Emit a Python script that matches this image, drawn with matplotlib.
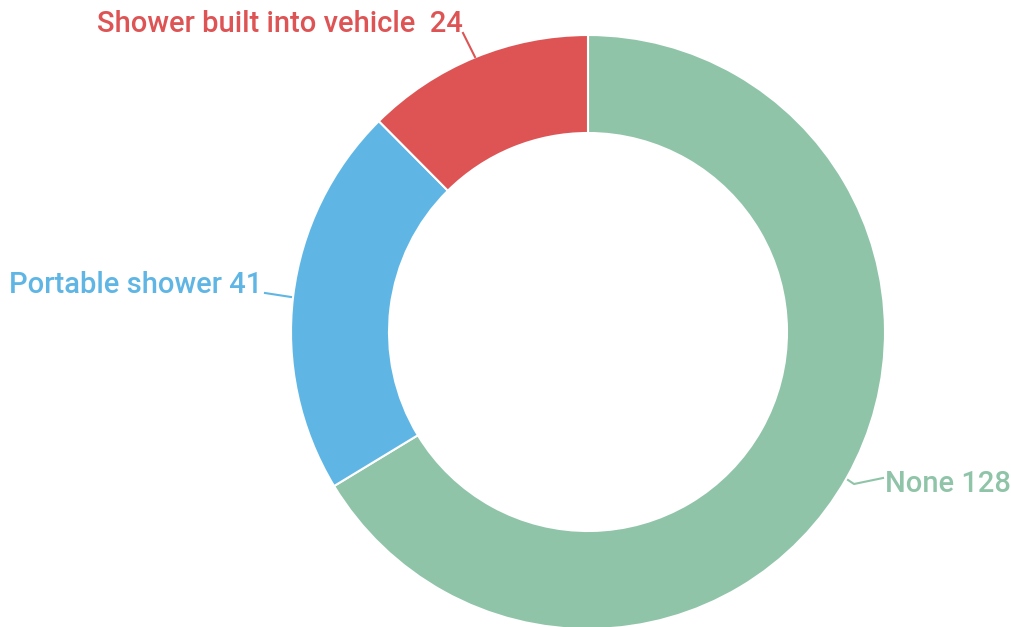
import matplotlib
matplotlib.use('Agg')
import matplotlib.pyplot as plt

labels = ['None', 'Portable shower', 'Shower built into vehicle']
values = [128, 41, 24]
colors = ['#8fc4a8', '#5fb6e5', '#de5455']

W, H = 1011, 627
fig = plt.figure(figsize=(W / 100, H / 100), dpi=100)
ax = fig.add_axes([0, 0, 1, 1])

cx, cy = 588, H - 332
R, r = 297, 199

ax.pie(values, colors=colors, startangle=90, counterclock=False,
       center=(cx, cy), radius=R, frame=True,
       wedgeprops=dict(width=R - r, edgecolor='white', linewidth=1.5))
ax.set_xlim(0, W)
ax.set_ylim(0, H)
ax.set_aspect('equal')
ax.axis('off')

def py(y):
    return H - y

font = dict(family=['Roboto', 'DejaVu Sans'], fontsize=21, fontweight='medium')

# leader lines + labels (pixel positions)
ax.plot([848, 854, 883], [py(480), py(484), py(478)], color=colors[0], lw=1.5)
ax.text(885, py(484), '%s %d' % (labels[0], values[0]), color=colors[0],
        ha='left', va='center', **font)

ax.plot([265, 291], [py(293), py(297)], color=colors[1], lw=1.5)
ax.text(262, py(285), '%s %d' % (labels[1], values[1]), color=colors[1],
        ha='right', va='center', **font)

ax.plot([463, 475], [py(33), py(57)], color=colors[2], lw=1.5)
ax.text(97, py(24), '%s  %d' % (labels[2], values[2]), color=colors[2],
        ha='left', va='center', **font)

fig.savefig('out.png', dpi=100)
